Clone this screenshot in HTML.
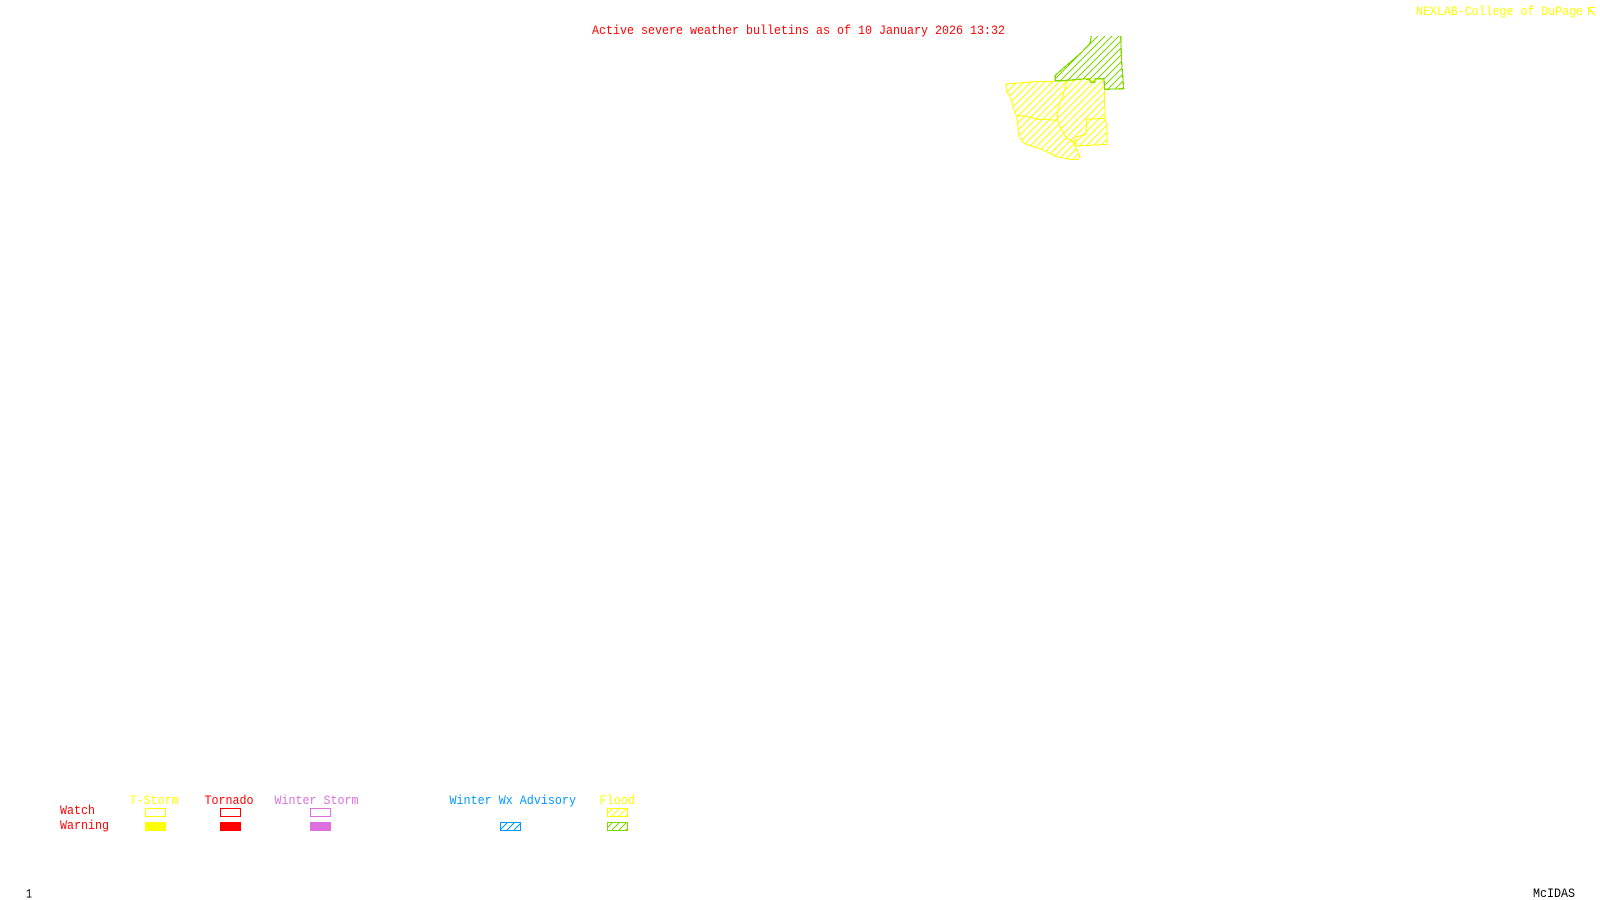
<!DOCTYPE html>
<html lang="en">
<head>
<meta charset="utf-8">
<title>Active severe weather bulletins</title>
<style>
html,body{margin:0;padding:0;background:#fff;width:1600px;height:900px;overflow:hidden}
svg{display:block;position:absolute;left:0;top:0}
text{font-family:"Liberation Mono","DejaVu Sans Mono",monospace;font-size:13px}
.y{fill:#ffff00}.r{fill:#ff0000}.o{fill:#dd70dd}.b{fill:#0099ff}.k{fill:#000}
</style>
</head>
<body>
<svg width="1600" height="900" viewBox="0 0 1600 900" xmlns="http://www.w3.org/2000/svg">
<defs>
<pattern id="hy" patternUnits="userSpaceOnUse" width="7" height="7"><path d="M-1 8L8 -1M-1 1L1 -1M6 8L8 6" stroke="#ffff00" stroke-width="1" shape-rendering="crispEdges"/></pattern>
<pattern id="hg" patternUnits="userSpaceOnUse" width="7" height="7"><path d="M-1 8L8 -1M-1 1L1 -1M6 8L8 6" stroke="#80d800" stroke-width="1" shape-rendering="crispEdges"/></pattern>
<pattern id="hb" patternUnits="userSpaceOnUse" width="7" height="7"><path d="M-1 8L8 -1M-1 1L1 -1M6 8L8 6" stroke="#0099ff" stroke-width="1" shape-rendering="crispEdges"/></pattern>
</defs>
<rect width="1600" height="900" fill="#fff"/>

<text class="y" x="1416" y="15" textLength="167" lengthAdjust="spacingAndGlyphs">NEXLAB-College of DuPage</text>
<path d="M1588.5 7.5H1595M1588.5 7.5V15.5M1588.5 7.5L1595 15.5M1588.5 11.5H1593" stroke="#ffff00" stroke-width="1" fill="none"/>
<text class="r" x="592" y="34" textLength="413" lengthAdjust="spacingAndGlyphs">Active severe weather bulletins as of 10 January 2026 13:32</text>

<!-- Yellow flood polygons -->
<g fill="url(#hy)" stroke="#ffff00" stroke-width="1" stroke-linejoin="round" shape-rendering="crispEdges">
<path d="M1006 84L1034 81.7L1066.7 81L1063.3 95L1058.3 106.7L1057.3 120L1036.7 119.3L1031.7 117.3L1016 115.3L1010 96.7L1006.7 91.7Z"/>
<path d="M1016.7 115.3L1019 136.7L1024 143.3L1043 150L1056.7 156.7L1070 159.3L1078.3 159.3L1080 156.7L1073 141.7L1066.7 138.3L1060 126.7L1057.3 120L1036.7 119.3L1031.7 117.3Z"/>
<path d="M1066.7 81L1089.3 78.3L1091.7 82.3L1095 79L1104 78.3L1105 118.3L1086.7 119.3L1086 134.3L1076.7 136.7L1074 141.7L1066.7 138.3L1060 126.7L1057.3 120L1058.3 106.7L1063.3 95Z"/>
<path d="M1086.7 119.3L1105 118.3L1106.7 124.3L1107 144.3L1076.7 146L1074 141.7L1076.7 136.7L1086 134.3Z"/>
</g>

<!-- Green flood polygon: open along the clipped top edge -->
<path d="M1055.3 80.7L1055.3 75.3L1082.3 51.7L1090 43.3L1091.3 36L1120.7 36L1121.7 63L1123 80L1123.7 88.7L1104.7 89.3L1104 78.7L1095.3 78.7L1094.7 82.3L1090.7 82.3L1089.3 79.3L1083 79L1061.7 80.7Z" fill="url(#hg)"/>
<path d="M1091.3 36L1090 43.3L1082.3 51.7L1055.3 75.3L1055.3 80.7L1061.7 80.7L1083 79L1089.3 79.3L1090.7 82.3L1094.7 82.3L1095.3 78.7L1104 78.7L1104.7 89.3L1123.7 88.7L1123 80L1121.7 63L1120.7 36" fill="none" stroke="#80d800" stroke-width="1.2" stroke-linejoin="round" shape-rendering="crispEdges"/>

<!-- Legend -->
<text class="y" x="129.5" y="804" textLength="49" lengthAdjust="spacingAndGlyphs">T-Storm</text>
<text class="r" x="204.5" y="804" textLength="49" lengthAdjust="spacingAndGlyphs">Tornado</text>
<text class="o" x="274.5" y="804" textLength="84" lengthAdjust="spacingAndGlyphs">Winter Storm</text>
<text class="b" x="449.5" y="804" textLength="126.5" lengthAdjust="spacingAndGlyphs">Winter Wx Advisory</text>
<text class="y" x="599.5" y="804" textLength="35.5" lengthAdjust="spacingAndGlyphs">Flood</text>
<text class="r" x="60" y="814" textLength="35" lengthAdjust="spacingAndGlyphs">Watch</text>
<text class="r" x="60" y="829" textLength="49" lengthAdjust="spacingAndGlyphs">Warning</text>

<rect x="145.5" y="808.5" width="20" height="8" fill="none" stroke="#ffff00"/>
<rect x="220.5" y="808.5" width="20" height="8" fill="none" stroke="#ff0000"/>
<rect x="310.5" y="808.5" width="20" height="8" fill="none" stroke="#dd70dd"/>
<rect x="607.5" y="808.5" width="20" height="8" fill="url(#hy)" stroke="#ffff00"/>
<rect x="145" y="822" width="21" height="9" fill="#ffff00"/>
<rect x="220" y="822" width="21" height="9" fill="#ff0000"/>
<rect x="310" y="822" width="21" height="9" fill="#dd70dd"/>
<rect x="500.5" y="822.5" width="20" height="8" fill="url(#hb)" stroke="#0099ff"/>
<rect x="607.5" y="822.5" width="20" height="8" fill="url(#hg)" stroke="#80d800"/>

<text class="k" x="26" y="897.5" textLength="6" lengthAdjust="spacingAndGlyphs">1</text>
<text class="k" x="1533" y="897" textLength="42" lengthAdjust="spacingAndGlyphs">McIDAS</text>
</svg>
</body>
</html>
